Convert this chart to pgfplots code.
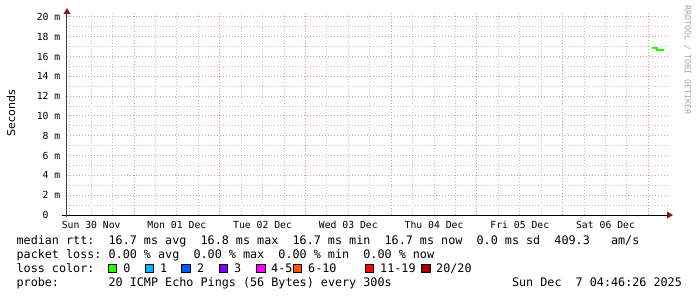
\documentclass[border=0pt]{standalone}
\usepackage{fontspec}
\setmainfont{DejaVu Sans}
\newfontfamily\mono{DejaVu Sans Mono}
\usepackage{pgfplots}
\pgfplotsset{compat=1.18}
\definecolor{majgrid}{RGB}{232,150,150}
\definecolor{mingrid}{RGB}{195,195,195}
\definecolor{arrowred}{RGB}{140,20,20}
\definecolor{lc0}{HTML}{26FF00}
\definecolor{lc1}{HTML}{00B8FF}
\definecolor{lc2}{HTML}{0059FF}
\definecolor{lc3}{HTML}{7E00FF}
\definecolor{lc4}{HTML}{FF00FF}
\definecolor{lc6}{HTML}{FF5500}
\definecolor{lc11}{HTML}{FF0000}
\definecolor{lc20}{HTML}{A00000}
\definecolor{wmark}{RGB}{165,165,165}
\begin{document}
\begin{tikzpicture}[x=1bp,y=1bp]
\path[use as bounding box, fill=white] (-67,-82) rectangle (630,215);
\begin{axis}[
  at={(0,0)}, anchor=south west,
  scale only axis, width=601bp, height=202bp,
  xmin=-18.76, xmax=149.5, ymin=0, ymax=20.4,
  axis x line=bottom, axis y line=left,
  axis line style={draw=none},
  xtick={-12,12,36,60,84,108,132},
  xticklabels={Sun 30 Nov,Mon 01 Dec,Tue 02 Dec,Wed 03 Dec,Thu 04 Dec,Fri 05 Dec,Sat 06 Dec},
  minor xtick={-18,-12,...,149},
  extra x ticks={0,24,48,72,96,120,144},
  extra x tick labels={},
  extra x tick style={xmajorgrids=true, major grid style={majgrid, line width=1bp, dash pattern=on 1bp off 2bp}},
  ytick={0,2,...,20},
  yticklabels={0\phantom{~m},2~m,4~m,6~m,8~m,10~m,12~m,14~m,16~m,18~m,20~m},
  minor ytick={1,3,...,19},
  xmajorgrids=false, xminorgrids=true,
  ymajorgrids=true, yminorgrids=true,
  major grid style={majgrid, line width=1bp, dash pattern=on 1bp off 2bp},
  minor grid style={mingrid, line width=1bp, dash pattern=on 1bp off 2bp},
  major tick length=0pt, minor tick length=0pt,
  xticklabel style={font=\fontsize{9.8}{10}\selectfont\mono, anchor=base, inner sep=0pt, yshift=-13bp},
  yticklabel style={font=\fontsize{9.8}{10}\selectfont\mono, anchor=base east, inner sep=0pt, xshift=-6.5bp, yshift=-3.6bp},
  clip=false,
]
\addplot[const plot, color=lc0, line width=2bp] coordinates {(145.0,16.82) (146.4,16.67) (148.4,16.67)};
\end{axis}
\begin{scope}[shift={(-67bp,215bp)}, x=1bp, y=-1bp]
  % axis lines
  \draw[black, line width=1bp] (62,215) -- (668,215);
  \fill[arrowred] (667,211.5) -- (673,215) -- (667,218.5) -- cycle;
  \draw[black!75, line width=1bp] (67,217) -- (67,13);
  \fill[arrowred] (63.5,14) -- (67,8) -- (70.5,14) -- cycle;
  % y label
  \node[rotate=90, font=\fontsize{11}{12}\selectfont, inner sep=0pt] at (11,113) {Seconds};
  % watermark
  \node[rotate=-90, anchor=west, font=\fontsize{8.3}{9}\selectfont\mono, text=wmark, inner sep=0pt] at (687.5,5) {RRDTOOL / TOBI OETIKER};
  % legend text
  \begin{scope}[every node/.style={anchor=base west, inner sep=0pt, font=\fontsize{11.8}{12}\selectfont\mono}]
  \node at (16.4,244) {median~rtt:~~16.7~ms~avg~~16.8~ms~max~~16.7~ms~min~~16.7~ms~now~~0.0~ms~sd~~409.3~~~am/s};
  \node at (16.4,258) {packet~loss:~0.00~\%~avg~~0.00~\%~max~~0.00~\%~min~~0.00~\%~now};
  \node at (16.4,272) {loss~color:};
  \node at (123.3,272) {0};
  \node at (160,272) {1};
  \node at (197,272) {2};
  \node at (234,272) {3};
  \node at (271,272) {4-5};
  \node at (308,272) {6-10};
  \node at (380,272) {11-19};
  \node at (436,272) {20/20};
  \node at (16.4,286) {probe:~~~~~~~20~ICMP~Echo~Pings~(56~Bytes)~every~300s~~~~~~~~~~~~~~~~~Sun~Dec~~7~04:46:26~2025};
  \end{scope}
  \foreach \bx/\c in {108.3/lc0,145/lc1,181.7/lc2,219.3/lc3,256.7/lc4,293.3/lc6,365/lc11,421.7/lc20}{
    \filldraw[fill=\c, draw=black, line width=0.8bp] (\bx,264) rectangle ++(8.4,8.4);
  }
\end{scope}
\end{tikzpicture}
\end{document}
